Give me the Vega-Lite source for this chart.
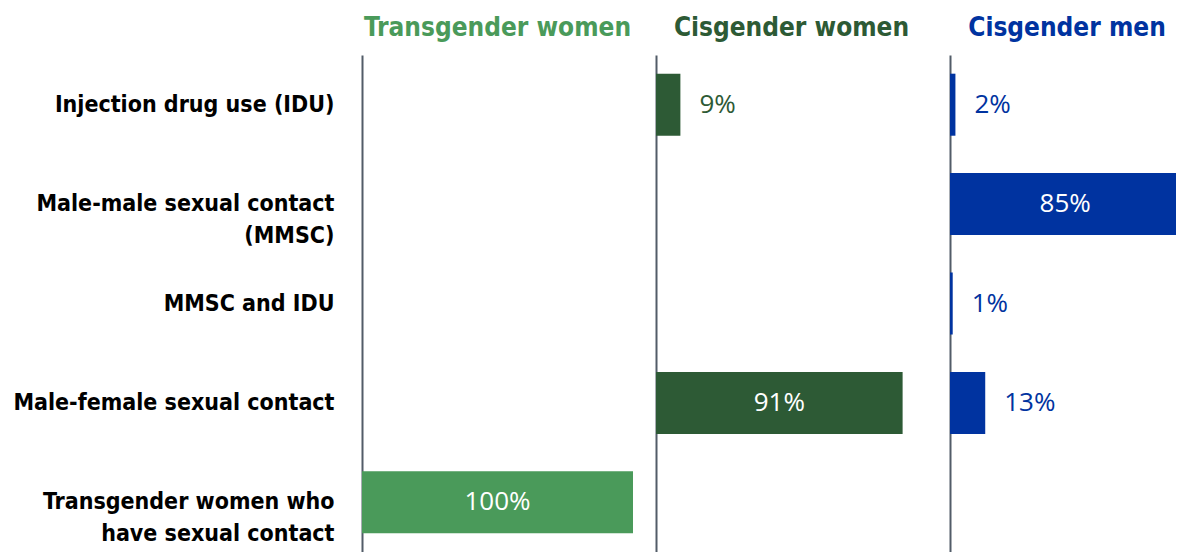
{
  "$schema": "https://vega.github.io/schema/vega-lite/v6.json",
  "padding": {"left": 12, "top": 15, "right": 0, "bottom": 0},
  "autosize": {"type": "pad"},
  "background": "white",
  "config": {
    "view": {"stroke": null},
    "concat": {"spacing": 23},
    "title": {"font": "DejaVu Sans Condensed", "fontSize": 26, "fontWeight": "bold", "anchor": "middle", "offset": 14},
    "text": {"font": "Open Sans", "fontSize": 26}
  },
  "datasets": {
    "d": [
      {"group": "Transgender women", "category": "Transgender women who|have sexual contact", "value": 100},
      {"group": "Cisgender women", "category": "Injection drug use (IDU)", "value": 9},
      {"group": "Cisgender women", "category": "Male-female sexual contact", "value": 91},
      {"group": "Cisgender men", "category": "Injection drug use (IDU)", "value": 2},
      {"group": "Cisgender men", "category": "Male-male sexual contact|(MMSC)", "value": 85},
      {"group": "Cisgender men", "category": "MMSC and IDU", "value": 1},
      {"group": "Cisgender men", "category": "Male-female sexual contact", "value": 13}
    ]
  },
  "hconcat": [
    {
      "width": 271, "height": 497,
      "data": {"name": "d"},
      "transform": [
        {"filter": "datum.group === 'Transgender women'"},
        {"calculate": "datum.value / 2", "as": "mid"},
        {"calculate": "datum.value + '%'", "as": "label"}
      ],
      "title": {"text": "Transgender women", "color": "#4a9a5a"},
      "encoding": {
        "y": {
          "field": "category", "type": "nominal",
          "scale": {"domain": ["Injection drug use (IDU)", "Male-male sexual contact|(MMSC)", "MMSC and IDU", "Male-female sexual contact", "Transgender women who|have sexual contact"], "paddingInner": 0.376, "paddingOuter": 0.188},
          "axis": {"title": null, "ticks": false, "domainColor": "#525c68", "domainWidth": 2, "labelFont": "DejaVu Sans Condensed", "labelFontWeight": "bold", "labelFontSize": 23, "labelColor": "#000000", "labelPadding": 28, "labelLimit": 400, "labelLineHeight": 32, "labelExpr": "split(datum.value, '|')"}
        }
      },
      "layer": [
        {"mark": {"type": "bar", "color": "#4a9a5a", "clip": true},
         "encoding": {"x": {"field": "value", "type": "quantitative", "scale": {"domain": [0, 100], "nice": false}, "axis": null}}},
        {"transform": [{"filter": "datum.value >= 50"}],
         "mark": {"type": "text", "color": "white", "align": "center", "baseline": "middle"},
         "encoding": {"x": {"field": "mid", "type": "quantitative"}, "text": {"field": "label"}}},
        {"transform": [{"filter": "datum.value < 50"}],
         "mark": {"type": "text", "color": "#4a9a5a", "align": "left", "baseline": "middle", "dx": 19},
         "encoding": {"x": {"field": "value", "type": "quantitative"}, "text": {"field": "label"}}}
      ]
    },
    {
      "width": 271, "height": 497,
      "data": {"name": "d"},
      "transform": [
        {"filter": "datum.group === 'Cisgender women'"},
        {"calculate": "datum.value / 2", "as": "mid"},
        {"calculate": "datum.value + '%'", "as": "label"}
      ],
      "title": {"text": "Cisgender women", "color": "#2d5a35"},
      "encoding": {
        "y": {
          "field": "category", "type": "nominal",
          "scale": {"domain": ["Injection drug use (IDU)", "Male-male sexual contact|(MMSC)", "MMSC and IDU", "Male-female sexual contact", "Transgender women who|have sexual contact"], "paddingInner": 0.376, "paddingOuter": 0.188},
          "axis": {"title": null, "ticks": false, "labels": false, "domainColor": "#525c68", "domainWidth": 2}
        }
      },
      "layer": [
        {"mark": {"type": "bar", "color": "#2d5a35", "clip": true},
         "encoding": {"x": {"field": "value", "type": "quantitative", "scale": {"domain": [0, 100], "nice": false}, "axis": null}}},
        {"transform": [{"filter": "datum.value >= 50"}],
         "mark": {"type": "text", "color": "white", "align": "center", "baseline": "middle"},
         "encoding": {"x": {"field": "mid", "type": "quantitative"}, "text": {"field": "label"}}},
        {"transform": [{"filter": "datum.value < 50"}],
         "mark": {"type": "text", "color": "#2d5a35", "align": "left", "baseline": "middle", "dx": 19},
         "encoding": {"x": {"field": "value", "type": "quantitative"}, "text": {"field": "label"}}}
      ]
    },
    {
      "width": 226, "height": 497,
      "data": {"name": "d"},
      "transform": [
        {"filter": "datum.group === 'Cisgender men'"},
        {"calculate": "datum.value / 2", "as": "mid"},
        {"calculate": "datum.value + '%'", "as": "label"}
      ],
      "title": {"text": "Cisgender men", "color": "#0033a0", "dx": 4},
      "encoding": {
        "y": {
          "field": "category", "type": "nominal",
          "scale": {"domain": ["Injection drug use (IDU)", "Male-male sexual contact|(MMSC)", "MMSC and IDU", "Male-female sexual contact", "Transgender women who|have sexual contact"], "paddingInner": 0.376, "paddingOuter": 0.188},
          "axis": {"title": null, "ticks": false, "labels": false, "domainColor": "#525c68", "domainWidth": 2}
        }
      },
      "layer": [
        {"mark": {"type": "bar", "color": "#0033a0", "clip": true},
         "encoding": {"x": {"field": "value", "type": "quantitative", "scale": {"domain": [0, 83.4], "nice": false}, "axis": null}}},
        {"transform": [{"filter": "datum.value >= 50"}],
         "mark": {"type": "text", "color": "white", "align": "center", "baseline": "middle"},
         "encoding": {"x": {"field": "mid", "type": "quantitative"}, "text": {"field": "label"}}},
        {"transform": [{"filter": "datum.value < 50"}],
         "mark": {"type": "text", "color": "#0033a0", "align": "left", "baseline": "middle", "dx": 19},
         "encoding": {"x": {"field": "value", "type": "quantitative"}, "text": {"field": "label"}}}
      ]
    }
  ]
}
